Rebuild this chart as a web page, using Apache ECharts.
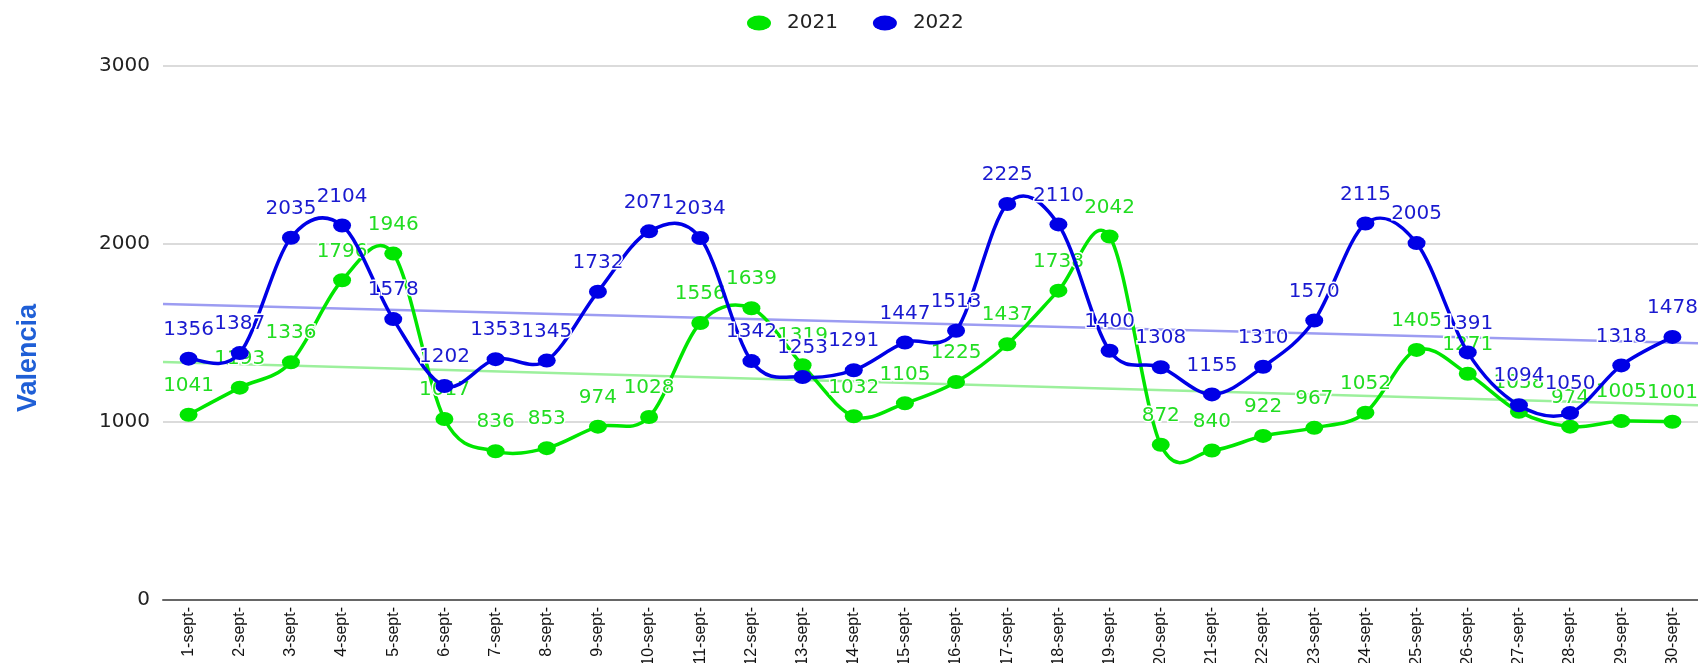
<!DOCTYPE html>
<html>
<head>
<meta charset="utf-8">
<script src="https://cdn.jsdelivr.net/npm/echarts@6/dist/echarts.min.js"></script>
<style>html,body{margin:0;padding:0;background:#fff}#c{width:1698px;height:663px}</style>
</head>
<body>
<div id="c"></div>
<script>
const categories = ['1-sept-','2-sept-','3-sept-','4-sept-','5-sept-','6-sept-','7-sept-','8-sept-','9-sept-','10-sept-',
  '11-sept-','12-sept-','13-sept-','14-sept-','15-sept-','16-sept-','17-sept-','18-sept-','19-sept-','20-sept-',
  '21-sept-','22-sept-','23-sept-','24-sept-','25-sept-','26-sept-','27-sept-','28-sept-','29-sept-','30-sept-'];
const values2021 = [1041,1193,1336,1796,1946,1017,836,853,974,1028,1556,1639,1319,1032,1105,1225,1437,1738,2042,872,840,922,967,1052,1405,1271,1058,974,1005,1001];
const values2022 = [1356,1387,2035,2104,1578,1202,1353,1345,1732,2071,2034,1342,1253,1291,1447,1513,2225,2110,1400,1308,1155,1310,1570,2115,2005,1391,1094,1050,1318,1478];
const seriesNames = ['2021','2022'];
const yTicks = [0,1000,2000,3000];
const axisTitle = 'Valencia';

// least-squares trend line of a series, spanning the whole category band
function trend(vals){
  const n = vals.length;
  let sx=0, sy=0, sxx=0, sxy=0;
  vals.forEach((v,i)=>{sx+=i;sy+=v;sxx+=i*i;sxy+=i*v;});
  const b = (n*sxy - sx*sy)/(n*sxx - sx*sx);
  const a = (sy - b*sx)/n;
  const x0 = -0.5, x1 = n-0.5;
  return [[x0, a+b*x0],[x1, a+b*x1]];
}

const GREEN = '#00e600', BLUE = '#0000e6';
const ell = 'path://M0,50A50,50,0,1,1,100,50A50,50,0,1,1,0,50Z';
const chart = echarts.init(document.getElementById('c'));

// Catmull-Rom curve through the data points (positions from the axes via api.coord)
function curveSeries(name, values, color, z){
  return {
    name, type:'custom', z, silent:true, clip:false,
    itemStyle:{color},
    data: values.map((v,i)=>[i,v]), encode:{x:0, y:1},
    renderItem(params, api){
      if (params.dataIndex !== 0) return null;
      const pts = values.map((v,i)=>api.coord([i, v]));
      let d = 'M' + pts[0][0] + ',' + pts[0][1];
      for (let i=0;i<pts.length-1;i++){
        const p0 = pts[i-1] || pts[i], p1 = pts[i], p2 = pts[i+1], p3 = pts[i+2] || pts[i+1];
        const c1 = [p1[0]+(p2[0]-p0[0])/6, p1[1]+(p2[1]-p0[1])/6];
        const c2 = [p2[0]-(p3[0]-p1[0])/6, p2[1]-(p3[1]-p1[1])/6];
        d += 'C' + c1[0] + ',' + c1[1] + ',' + c2[0] + ',' + c2[1] + ',' + p2[0] + ',' + p2[1];
      }
      return {type:'path', shape:{pathData:d}, style:{fill:null, stroke:color, lineWidth:3.5}};
    }
  };
}
function pointSeries(name, data, color, labelColor, z){
  return {
    name, type:'line', data, z,
    symbol: ell, symbolSize:[18,14], symbolKeepAspect:false,
    itemStyle:{color}, lineStyle:{opacity:0},
    label:{show:true, position:'top', distance:12, color:labelColor,
      fontFamily:'DejaVu Sans', fontSize:20, textBorderColor:'#fff', textBorderWidth:3},
    emphasis:{disabled:true}
  };
}
chart.setOption({
  animation:false,
  legend:{
    data: [
      {name:seriesNames[0], icon:ell, itemStyle:{color:GREEN}},
      {name:seriesNames[1], icon:ell, itemStyle:{color:BLUE}}
    ],
    left:742, top:8, itemWidth:24, itemHeight:15, itemGap:35, symbolKeepAspect:false,
    textStyle:{fontFamily:'DejaVu Sans', fontSize:20, color:'#222', padding:[0,0,0,11]}
  },
  grid:{left:163, right:0, top:66, bottom:63, containLabel:false, outerBoundsMode:'none'},
  xAxis:[{
    type:'category', data:categories, boundaryGap:true,
    axisLine:{show:true, lineStyle:{color:'#666', width:2}},
    axisTick:{show:false},
    axisLabel:{interval:0, rotate:90, margin:7, color:'#111', fontFamily:'Liberation Sans Narrow, Liberation Sans', fontSize:16}
  },{
    type:'value', min:-0.5, max:categories.length-0.5, show:false
  }],
  yAxis:{
    type:'value', min:yTicks[0], max:yTicks[yTicks.length-1], interval:1000,
    axisLine:{show:false}, axisTick:{show:false},
    axisLabel:{margin:13, color:'#222', fontFamily:'DejaVu Sans', fontSize:20, formatter: v => String(v)},
    splitLine:{lineStyle:{color:'#cfcfcf', width:1.5}}
  },
  graphic:[{
    type:'text', x:29, y:358, rotation:Math.PI/2,
    style:{text:axisTitle, fill:'#1f5fd6', font:'bold 27px "Liberation Sans Narrow", "Liberation Sans"', align:'center', verticalAlign:'middle'}
  }],
  series:[
    {type:'line', xAxisIndex:1, data:trend(values2021), symbol:'none', z:1, lineStyle:{color:'#9cf09c', width:2.5}, silent:true},
    {type:'line', xAxisIndex:1, data:trend(values2022), symbol:'none', z:1, lineStyle:{color:'#9c9cf2', width:2.5}, silent:true},
    curveSeries(seriesNames[0], values2021, GREEN, 2),
    pointSeries(seriesNames[0], values2021, GREEN, '#22dd22', 2),
    curveSeries(seriesNames[1], values2022, BLUE, 3),
    pointSeries(seriesNames[1], values2022, BLUE, '#1a1ad0', 3)
  ]
});
</script>
</body>
</html>
